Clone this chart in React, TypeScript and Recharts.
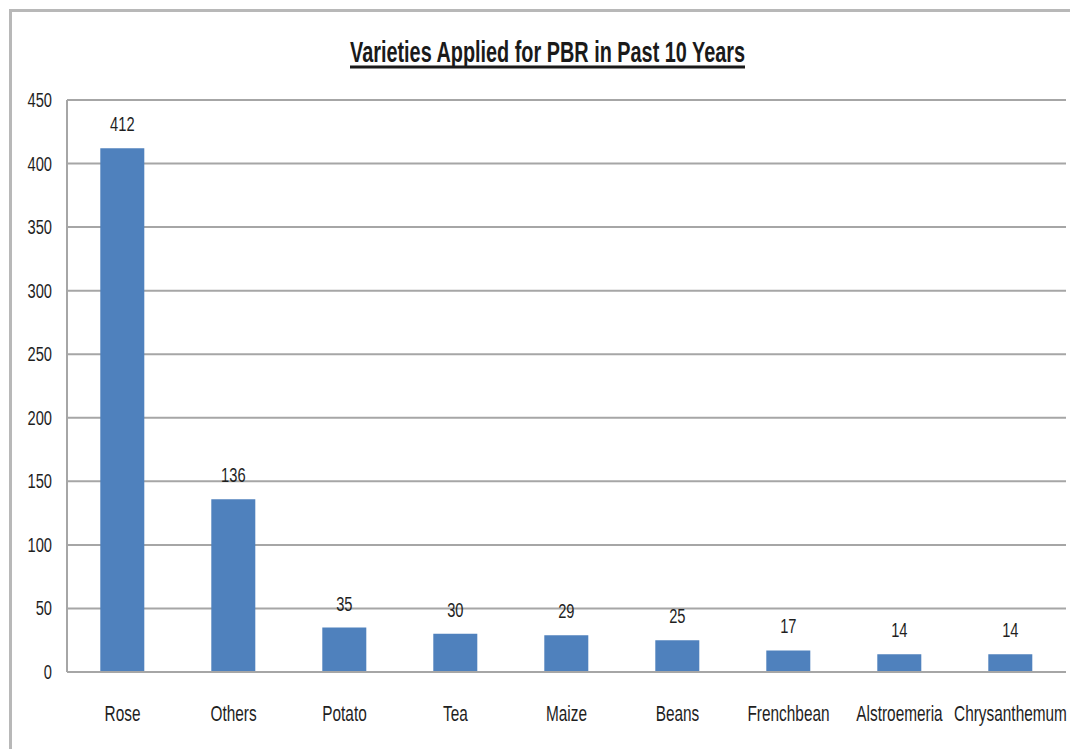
import { BarChart, Bar, XAxis, YAxis, CartesianGrid, LabelList } from "recharts";

const crops = [
  "Rose",
  "Others",
  "Potato",
  "Tea",
  "Maize",
  "Beans",
  "Frenchbean",
  "Alstroemeria",
  "Chrysanthemum",
];
const varieties = [412, 136, 35, 30, 29, 25, 17, 14, 14];
const yTicks = [0, 50, 100, 150, 200, 250, 300, 350, 400, 450];
const title = "Varieties Applied for PBR in Past 10 Years";

const data = crops.map((crop, i) => ({ crop, count: varieties[i] }));

const FONT = "'Liberation Sans', Arial, sans-serif";
const SQUEEZE = 0.7;
const INK = "#1f1f1f";

// narrow-looking text: regular Arial metrics squeezed horizontally
const XTick = (props: any) => {
  const { x, y, payload } = props;
  return (
    <g transform={`translate(${x},${y})`}>
      <text
        transform={`scale(${SQUEEZE},1)`}
        textAnchor="middle"
        y={49}
        fill={INK}
        fontSize={22}
        fontFamily={FONT}
      >
        {payload.value}
      </text>
    </g>
  );
};

const YTick = (props: any) => {
  const { x, y, payload } = props;
  return (
    <g transform={`translate(${x - 15},${y})`}>
      <text
        transform={`scale(${SQUEEZE},1)`}
        textAnchor="end"
        y={7}
        fill={INK}
        fontSize={21}
        fontFamily={FONT}
      >
        {payload.value}
      </text>
    </g>
  );
};

const ValueLabel = (props: any) => {
  const { x, y, width, value } = props;
  return (
    <g transform={`translate(${x + width / 2},${y - 17})`}>
      <text
        transform={`scale(${SQUEEZE},1)`}
        textAnchor="middle"
        fill={INK}
        fontSize={21}
        fontFamily={FONT}
      >
        {value}
      </text>
    </g>
  );
};

const App = () => {
  return (
    <div
      style={{
        position: "absolute",
        left: 0,
        top: 0,
        width: 1070,
        height: 749,
        background: "#fff",
        overflow: "hidden",
      }}
    >
      <div
        style={{
          position: "absolute",
          left: 9,
          top: 9,
          width: 1100,
          height: 800,
          borderLeft: "3px solid #b8b8b8",
          borderTop: "3px solid #b8b8b8",
        }}
      />
      <svg
        width={1070}
        height={90}
        style={{ position: "absolute", left: 0, top: 0 }}
      >
        <text
          x={350}
          y={62}
          textLength={395}
          lengthAdjust="spacingAndGlyphs"
          fontFamily={FONT}
          fontWeight="bold"
          fontSize={29}
          fill="#1a1a1a"
        >
          {title}
        </text>
        <line x1={350} x2={745} y1={67} y2={67} stroke="#1a1a1a" strokeWidth={3} />
      </svg>
      <div style={{ position: "absolute", left: 0, top: 0 }}>
        <BarChart
          width={1070}
          height={749}
          data={data}
          margin={{ top: 100, right: 4, left: 10, bottom: 27 }}
          barCategoryGap="30%"
        >
          <CartesianGrid vertical={false} stroke="#a6a6a6" strokeWidth={2} />
          <XAxis
            dataKey="crop"
            height={50}
            tickLine={false}
            tickSize={0}
            tickMargin={0}
            axisLine={{ stroke: "#a6a6a6", strokeWidth: 2 }}
            tick={<XTick />}
            interval={0}
          />
          <YAxis
            width={57}
            domain={[0, 450]}
            ticks={yTicks}
            tickLine={false}
            tickSize={0}
            tickMargin={0}
            axisLine={{ stroke: "#a6a6a6", strokeWidth: 2 }}
            tick={<YTick />}
          />
          <Bar dataKey="count" fill="#4f81bd" isAnimationActive={false}>
            <LabelList dataKey="count" content={<ValueLabel />} />
          </Bar>
        </BarChart>
      </div>
    </div>
  );
};

export default App;
